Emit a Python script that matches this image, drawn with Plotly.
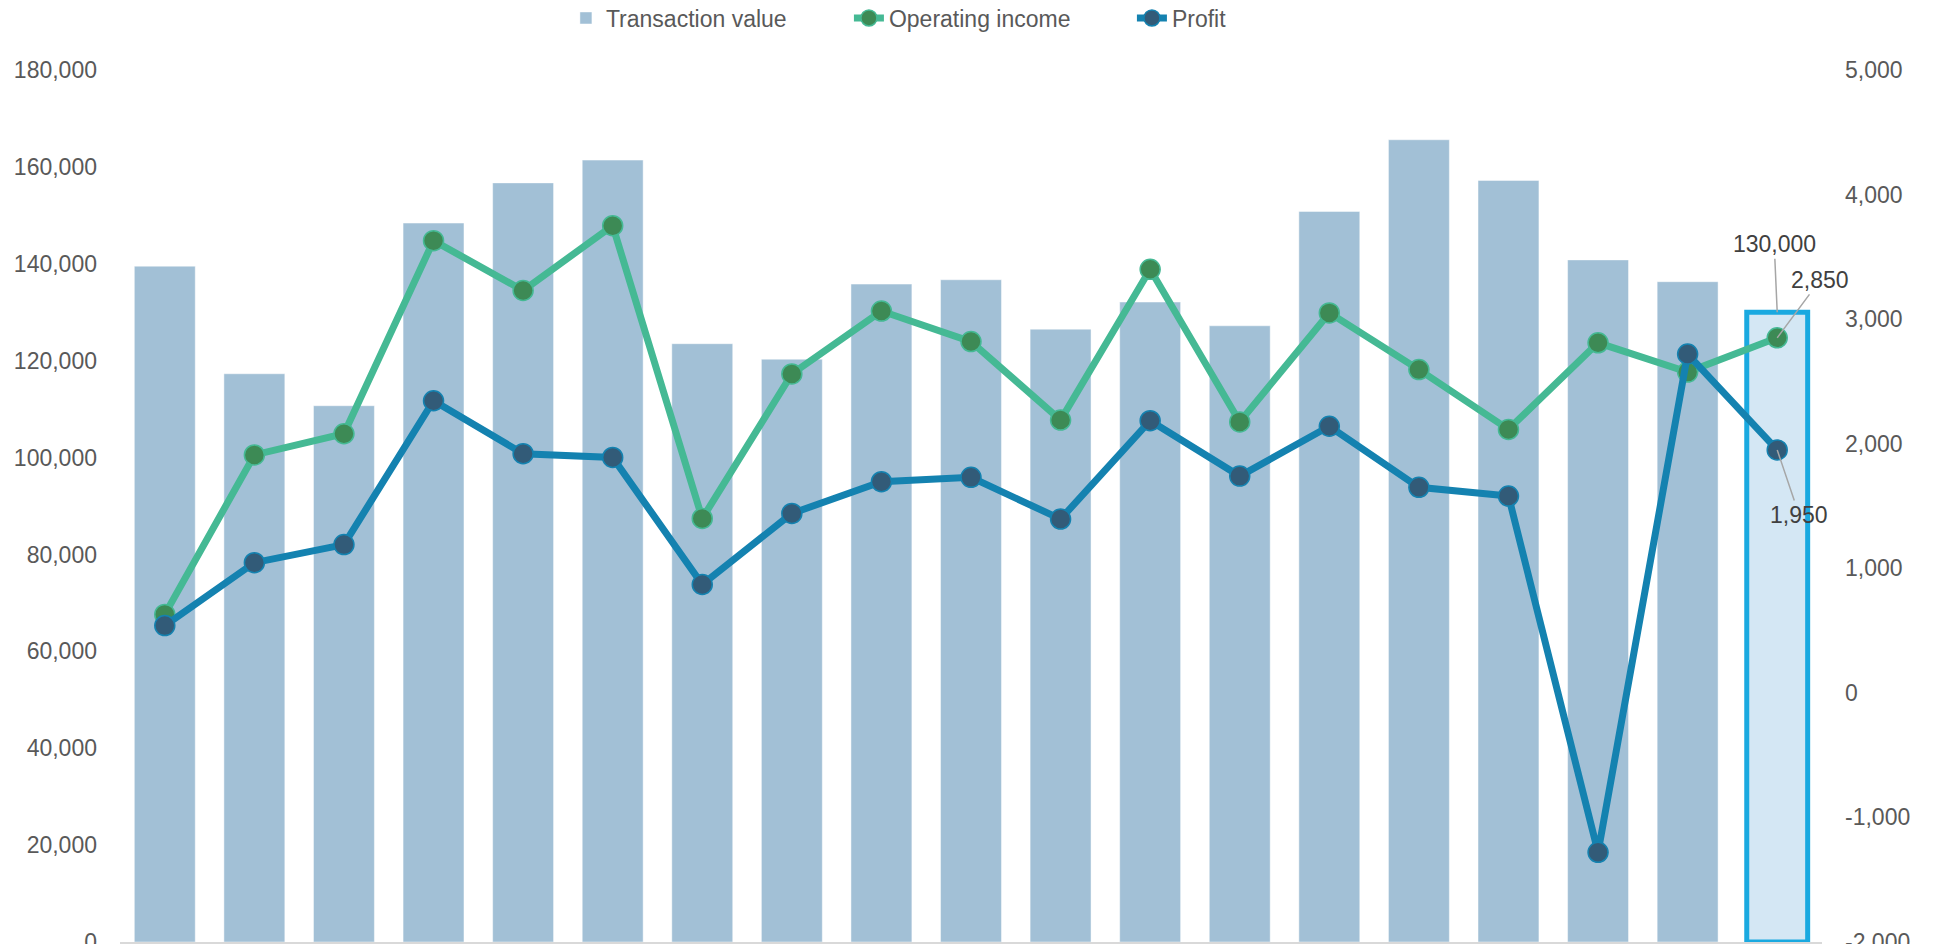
import plotly.graph_objects as go

categories = ["1", "2", "3", "4", "5", "6", "7", "8", "9", "10",
              "11", "12", "13", "14", "15", "16", "17", "18", "19"]
transaction_value = [139500, 117300, 110700, 148400, 156700, 161400, 123500, 120300,
                     135800, 136700, 126500, 132100, 127200, 150800, 165600, 157200,
                     140800, 136300, 130000]
operating_income = [630, 1910, 2080, 3630, 3230, 3750, 1400, 2560, 3065, 2820,
                    2190, 3400, 2175, 3050, 2595, 2115, 2810, 2575, 2850]
profit = [540, 1045, 1190, 2345, 1920, 1890, 870, 1440, 1695, 1730,
          1395, 2185, 1740, 2140, 1650, 1580, -1280, 2720, 1950]

left_ticks = [0, 20000, 40000, 60000, 80000, 100000, 120000, 140000, 160000, 180000]
left_labels = ["0", "20,000", "40,000", "60,000", "80,000", "100,000", "120,000",
               "140,000", "160,000", "180,000"]
right_ticks = [-2000, -1000, 0, 1000, 2000, 3000, 4000, 5000]
right_labels = ["-2,000", "-1,000", "0", "1,000", "2,000", "3,000", "4,000", "5,000"]

FONT = "Liberation Sans, Arial, sans-serif"
TXT = "#595959"

n = len(categories)
bar_colors = ["#a2c0d6"] * (n - 1) + ["#d4e7f4"]
bar_line_colors = ["rgba(255,255,255,0.45)"] * (n - 1) + ["#1aa9e0"]
bar_line_widths = [1] * (n - 1) + [5]

fig = go.Figure()
fig.add_trace(go.Bar(
    x=categories, y=transaction_value, name="Transaction value",
    marker=dict(color=bar_colors, line=dict(color=bar_line_colors, width=bar_line_widths)),
    yaxis="y",
))
fig.add_trace(go.Scatter(
    x=categories, y=operating_income, name="Operating income", mode="lines+markers",
    line=dict(color="#45b994", width=7),
    marker=dict(color="#3d8a55", size=20, line=dict(color="#45b994", width=1.5)),
    yaxis="y2",
))
fig.add_trace(go.Scatter(
    x=categories, y=profit, name="Profit", mode="lines+markers",
    line=dict(color="#1482b0", width=7),
    marker=dict(color="#325b78", size=20, line=dict(color="#1482b0", width=1.5)),
    yaxis="y2",
))

ann_font = dict(family=FONT, size=23, color="#404040")
last_idx = n - 1
annotations = [
    dict(x=last_idx, y=transaction_value[-1], xref="x", yref="y", text=f"{transaction_value[-1]:,}",
         showarrow=True, arrowhead=0, arrowwidth=1.5, arrowcolor="#a6a6a6", ax=-3, ay=-68,
         font=ann_font),
    dict(x=last_idx, y=operating_income[-1], xref="x", yref="y2", text=f"{operating_income[-1]:,}",
         showarrow=True, arrowhead=0, arrowwidth=1.5, arrowcolor="#a6a6a6", ax=43, ay=-58,
         font=ann_font),
    dict(x=last_idx, y=profit[-1], xref="x", yref="y2", text=f"{profit[-1]:,}",
         showarrow=True, arrowhead=0, arrowwidth=1.5, arrowcolor="#a6a6a6", ax=22, ay=65,
         font=ann_font),
]

fig.update_layout(
    width=1935, height=944,
    margin=dict(l=120, r=113, t=70, b=2, autoexpand=False),
    paper_bgcolor="white", plot_bgcolor="white",
    bargap=0.32,
    font=dict(family=FONT, size=23, color=TXT),
    showlegend=True,
    legend=dict(orientation="h", x=0.262, xanchor="left", y=1.0596, yanchor="middle",
                font=dict(family=FONT, size=23, color=TXT), traceorder="normal",
                entrywidth=238, bgcolor="rgba(0,0,0,0)"),
    xaxis=dict(type="category", range=[-0.5, n - 0.5], showticklabels=False, showgrid=False,
               zeroline=False, automargin=False,
               showline=True, linecolor="#d9d9d9", linewidth=3, ticks=""),
    yaxis=dict(range=[0, 180000], tickvals=left_ticks, ticktext=left_labels, showgrid=False,
               zeroline=False, showline=False, ticklabelstandoff=22, automargin=False,
               ticklabeloverflow="allow",
               tickfont=dict(family=FONT, size=23, color=TXT)),
    yaxis2=dict(range=[-2000, 5000], tickvals=right_ticks, ticktext=right_labels,
                overlaying="y", side="right", showgrid=False, zeroline=False,
                showline=False, ticklabelstandoff=22, automargin=False,
                ticklabeloverflow="allow",
                tickfont=dict(family=FONT, size=23, color=TXT)),
    annotations=annotations,
)

fig.write_html("out.html", config={"displayModeBar": False},
               post_script="document.body.style.margin='0';document.body.style.overflow='hidden';")
